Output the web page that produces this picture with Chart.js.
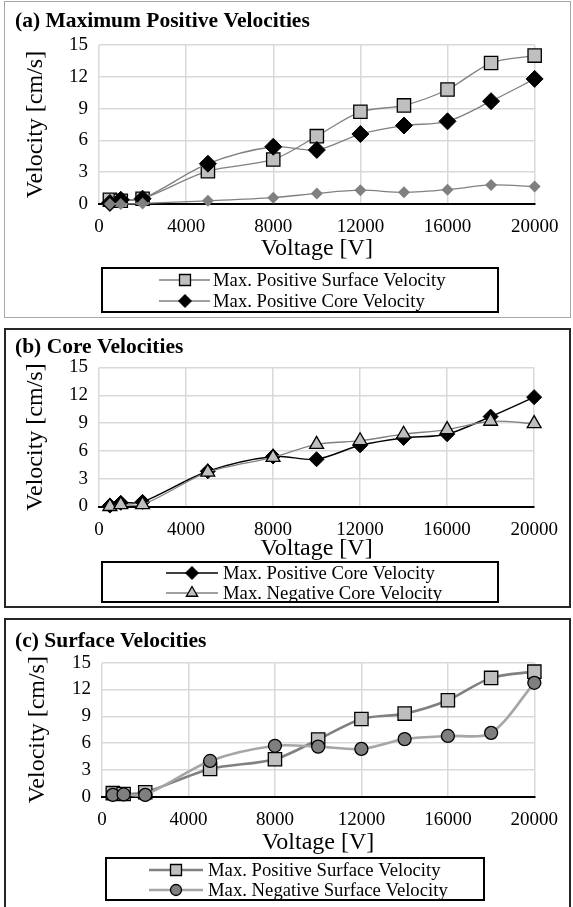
<!DOCTYPE html>
<html>
<head>
<meta charset="utf-8">
<title>Velocities vs Voltage</title>
<script src="https://cdn.jsdelivr.net/npm/chart.js@4.4.1/dist/chart.umd.min.js"></script>
<style>
  html, body { margin: 0; padding: 0; background: #fff; }
  body { width: 573px; height: 907px; position: relative; overflow: hidden; }
  .panel { position: absolute; box-sizing: border-box; background: #fff; }
  canvas { position: absolute; }
</style>
</head>
<body>
<div class="panel" style="left:4px;top:1px;width:567px;height:317px;border:1px solid #a6a6a6;"></div>
<div class="panel" style="left:4px;top:328px;width:567px;height:280px;border:2px solid #262626;"></div>
<div class="panel" style="left:4px;top:618px;width:567px;height:300px;border:2px solid #262626;"></div>
<canvas id="chartA" width="565" height="314" style="left:5px;top:2px;"></canvas>
<canvas id="chartB" width="565" height="276" style="left:5px;top:330px;"></canvas>
<canvas id="chartC" width="565" height="286" style="left:5px;top:620px;"></canvas>
<script>
// Applied voltage for every measurement [V]
const voltage = [500, 1000, 2000, 5000, 8000, 10000, 12000, 14000, 16000, 18000, 20000];

// Measured velocities [cm/s]
const maxPosSurface = [0.4, 0.3, 0.5, 3.1, 4.2, 6.4, 8.7, 9.3, 10.8, 13.3, 14.0];
const maxPosCore    = [0.1, 0.4, 0.5, 3.8, 5.4, 5.1, 6.6, 7.4, 7.8, 9.7, 11.8];
const maxPosMinor   = [0.0, 0.0, 0.05, 0.3, 0.6, 1.0, 1.3, 1.1, 1.35, 1.8, 1.65];
const maxNegCore    = [0.0, 0.2, 0.2, 3.7, 5.3, 6.7, 7.1, 7.8, 8.3, 9.2, 8.95];
const maxNegSurface = [0.2, 0.25, 0.2, 4.0, 5.7, 5.6, 5.35, 6.45, 6.8, 7.15, 12.75];

// Axis ranges and tick spacing
const voltageTicks  = [0, 4000, 8000, 12000, 16000, 20000];
const velocityTicks = [0, 3, 6, 9, 12, 15];

const SERIF = "'Liberation Serif', 'Times New Roman', serif";

const pairs = (ys) => voltage.map((v, i) => ({ x: v, y: ys[i] }));

// Legend markers drawn in the same shapes the chart uses
function drawMarker(ctx, style, x, y, size, fill, stroke, bw) {
  ctx.save();
  ctx.fillStyle = fill;
  ctx.strokeStyle = stroke;
  ctx.lineWidth = bw;
  ctx.beginPath();
  if (style === 'rect') {
    ctx.rect(x - size / 2, y - size / 2, size, size);
  } else if (style === 'rectRot') {
    ctx.moveTo(x, y - size); ctx.lineTo(x + size, y);
    ctx.lineTo(x, y + size); ctx.lineTo(x - size, y);
    ctx.closePath();
  } else if (style === 'triangle') {
    let a = 0;
    ctx.moveTo(x + Math.sin(a) * size, y - Math.cos(a) * size);
    a += 2 * Math.PI / 3;
    ctx.lineTo(x + Math.sin(a) * size, y - Math.cos(a) * size);
    a += 2 * Math.PI / 3;
    ctx.lineTo(x + Math.sin(a) * size, y - Math.cos(a) * size);
    ctx.closePath();
  } else {
    ctx.arc(x, y, size, 0, Math.PI * 2);
  }
  ctx.fill();
  if (bw > 0) ctx.stroke();
  ctx.restore();
}

// Framed legend box with line-and-marker samples
const framedLegend = {
  id: 'framedLegend',
  afterDraw(chart, args, opts) {
    const ctx = chart.ctx;
    const b = opts.box;
    ctx.save();
    ctx.strokeStyle = '#000';
    ctx.lineWidth = 2;
    ctx.strokeRect(b.left, b.top, b.right - b.left, b.bottom - b.top);
    opts.items.forEach((it) => {
      const ds = chart.data.datasets[it.index];
      ctx.strokeStyle = ds.borderColor;
      ctx.lineWidth = ds.borderWidth;
      ctx.beginPath();
      ctx.moveTo(opts.lineFrom, it.y);
      ctx.lineTo(opts.lineTo, it.y);
      ctx.stroke();
      drawMarker(ctx, ds.pointStyle, opts.markerX, it.y, it.size,
                 ds.pointBackgroundColor, ds.pointBorderColor, ds.pointBorderWidth);
      ctx.fillStyle = '#000';
      ctx.font = opts.fontSize + 'px ' + SERIF;
      ctx.textAlign = 'left';
      ctx.textBaseline = 'middle';
      ctx.fillText(ds.label, opts.textX, it.y + 1);
    });
    ctx.restore();
  }
};

function buildPanel(id, spec) {
  const el = document.getElementById(id);
  const W = el.width, H = el.height;
  const a = spec.area;
  const titleSize = 21.5, titleLH = titleSize * 1.2;
  const axisSize = 24, axisLH = axisSize * 1.2;
  const tickSize = 19, tickLH = tickSize * 1.2;
  const xAxisBottom = spec.xTitleY + axisLH / 2 + 1;

  return new Chart(el, {
    type: 'line',
    data: { datasets: spec.datasets },
    options: {
      responsive: false,
      animation: false,
      devicePixelRatio: 1,
      layout: {
        padding: { left: spec.padLeft, right: W - a.right, top: 0, bottom: H - xAxisBottom }
      },
      elements: { line: { cubicInterpolationMode: 'default' } },
      plugins: {
        legend: { display: false },
        tooltip: { enabled: false },
        title: {
          display: true,
          text: spec.title,
          align: 'start',
          color: '#000',
          font: { family: SERIF, size: titleSize, weight: 'bold' },
          padding: { top: spec.titleY - titleLH / 2, bottom: a.top - (spec.titleY + titleLH / 2) }
        },
        framedLegend: spec.legend
      },
      scales: {
        x: {
          type: 'linear',
          min: voltageTicks[0],
          max: voltageTicks[voltageTicks.length - 1],
          afterFit: (s) => { s.height = xAxisBottom - a.bottom; },
          afterBuildTicks: (s) => { s.ticks = voltageTicks.map((v) => ({ value: v })); },
          ticks: {
            color: '#000',
            font: { family: SERIF, size: tickSize },
            padding: spec.xLabelY - a.bottom - tickLH / 2,
            maxRotation: 0,
            callback: (v) => String(v)
          },
          grid: { color: '#d9d9d9', lineWidth: 1.5, drawTicks: false },
          border: { display: true, color: '#000', width: 2 },
          title: {
            display: true,
            text: 'Voltage [V]',
            color: '#000',
            font: { family: SERIF, size: axisSize },
            padding: { top: 0, bottom: 1 }
          }
        },
        y: {
          min: velocityTicks[0],
          max: velocityTicks[velocityTicks.length - 1],
          afterFit: (s) => { s.width = a.left - spec.padLeft; },
          afterBuildTicks: (s) => { s.ticks = velocityTicks.map((v) => ({ value: v })); },
          ticks: {
            color: '#000',
            font: { family: SERIF, size: tickSize },
            padding: 11
          },
          grid: { color: '#d9d9d9', lineWidth: 1.5, drawTicks: false },
          border: { display: false },
          title: {
            display: true,
            text: 'Velocity [cm/s]',
            color: '#000',
            font: { family: SERIF, size: axisSize },
            padding: { top: spec.yTitleX - spec.padLeft - axisLH / 2, bottom: 0 }
          }
        }
      }
    },
    plugins: [framedLegend]
  });
}

function series(label, ys, o) {
  return Object.assign({
    label: label,
    data: pairs(ys),
    showLine: true,
    clip: false,
    tension: 0.3,
    pointBorderColor: '#000',
    pointBorderWidth: 1.3,
    pointHoverRadius: 0
  }, o);
}

// (a) Maximum positive velocities
buildPanel('chartA', {
  title: '(a) Maximum Positive Velocities',
  padLeft: 10,
  area: { left: 94, right: 533, top: 43, bottom: 202 },
  titleY: 19, yTitleX: 31, xLabelY: 225, xTitleY: 247,
  datasets: [
    series('', maxPosMinor, { order: 0, borderColor: '#808080', borderWidth: 1.3,
      pointStyle: 'rectRot', radius: 6, pointBackgroundColor: '#808080', pointBorderColor: '#808080', pointBorderWidth: 0 }),
    series('Max. Positive Core Velocity', maxPosCore, { order: 1, borderColor: '#808080', borderWidth: 1.3,
      pointStyle: 'rectRot', radius: 8.5, pointBackgroundColor: '#000', pointBorderWidth: 1 }),
    series('Max. Positive Surface Velocity', maxPosSurface, { order: 2, borderColor: '#808080', borderWidth: 1.3,
      pointStyle: 'rect', radius: 9.4, pointBackgroundColor: '#bfbfbf' })
  ],
  legend: {
    box: { left: 97, right: 493, top: 266, bottom: 310 },
    lineFrom: 154, lineTo: 205, markerX: 180, textX: 208, fontSize: 18.7,
    items: [ { index: 2, y: 278, size: 11 }, { index: 1, y: 299, size: 6.5 } ]
  }
});

// (b) Core velocities
buildPanel('chartB', {
  title: '(b) Core Velocities',
  padLeft: 10,
  area: { left: 94, right: 533, top: 37.5, bottom: 176.5 },
  titleY: 17, yTitleX: 31, xLabelY: 200, xTitleY: 219,
  datasets: [
    series('Max. Negative Core Velocity', maxNegCore, { order: 0, borderColor: '#808080', borderWidth: 1.3,
      pointStyle: 'triangle', radius: 8, pointBackgroundColor: '#bfbfbf' }),
    series('Max. Positive Core Velocity', maxPosCore, { order: 1, borderColor: '#000', borderWidth: 1.5,
      pointStyle: 'rectRot', radius: 7.5, pointBackgroundColor: '#000', pointBorderWidth: 1 })
  ],
  legend: {
    box: { left: 97, right: 493, top: 232, bottom: 272 },
    lineFrom: 161, lineTo: 213, markerX: 187, textX: 218, fontSize: 18.7,
    items: [ { index: 1, y: 243, size: 6.5 }, { index: 0, y: 263, size: 6.5 } ]
  }
});

// (c) Surface velocities
buildPanel('chartC', {
  title: '(c) Surface Velocities',
  padLeft: 10,
  area: { left: 97, right: 534, top: 42.7, bottom: 176.7 },
  titleY: 21, yTitleX: 33, xLabelY: 200, xTitleY: 223,
  datasets: [
    series('Max. Negative Surface Velocity', maxNegSurface, { order: 0, borderColor: '#a6a6a6', borderWidth: 2.6,
      pointStyle: 'circle', radius: 6.5, pointBackgroundColor: '#7f7f7f' }),
    series('Max. Positive Surface Velocity', maxPosSurface, { order: 1, borderColor: '#808080', borderWidth: 2.6,
      pointStyle: 'rect', radius: 9.4, pointBackgroundColor: '#bfbfbf' })
  ],
  legend: {
    box: { left: 101, right: 479, top: 238, bottom: 280 },
    lineFrom: 144, lineTo: 198, markerX: 171, textX: 203, fontSize: 18.7,
    items: [ { index: 1, y: 250, size: 11 }, { index: 0, y: 270, size: 5.5 } ]
  }
});
</script>
</body>
</html>
